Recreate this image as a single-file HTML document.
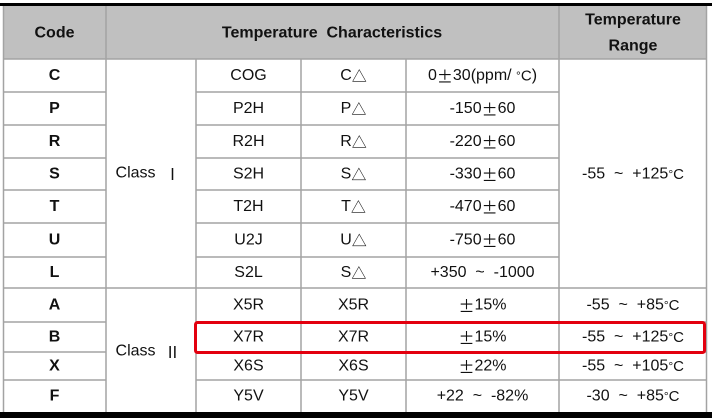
<!DOCTYPE html>
<html><head><meta charset="utf-8"><style>
html,body{margin:0;padding:0;background:#fff;}
svg{display:block;}
text{font-family:"Liberation Sans","Noto Sans CJK SC",sans-serif;font-size:16px;fill:#111;white-space:pre;}
.b{font-weight:bold;}
.c{font-family:"Noto Sans CJK SC","Liberation Sans",sans-serif;}
.d{font-size:12px;}
.dc{font-size:15px;}
</style></head><body>
<svg width="712" height="418" viewBox="0 0 712 418" xmlns="http://www.w3.org/2000/svg">
<rect x="0" y="0" width="712" height="418" fill="#fff"/>
<rect x="3" y="5" width="704" height="54" fill="#c0c0c0"/>
<g stroke="#a3a3a3" stroke-width="1.5" fill="none">
<line x1="3.5" y1="5" x2="3.5" y2="412"/>
<line x1="706.5" y1="5" x2="706.5" y2="412"/>
<line x1="106" y1="5" x2="106" y2="412"/>
<line x1="559" y1="5" x2="559" y2="412"/>
<line x1="196" y1="59" x2="196" y2="412"/>
<line x1="301" y1="59" x2="301" y2="412"/>
<line x1="406" y1="59" x2="406" y2="412"/>
<line x1="3" y1="59" x2="707" y2="59"/>
<line x1="3" y1="92" x2="106" y2="92"/>
<line x1="3" y1="125" x2="106" y2="125"/>
<line x1="3" y1="158" x2="106" y2="158"/>
<line x1="3" y1="190" x2="106" y2="190"/>
<line x1="3" y1="223" x2="106" y2="223"/>
<line x1="3" y1="257" x2="106" y2="257"/>
<line x1="3" y1="322" x2="106" y2="322"/>
<line x1="3" y1="352" x2="106" y2="352"/>
<line x1="3" y1="380" x2="106" y2="380"/>
<line x1="196" y1="92" x2="559" y2="92"/>
<line x1="196" y1="125" x2="559" y2="125"/>
<line x1="196" y1="158" x2="559" y2="158"/>
<line x1="196" y1="190" x2="559" y2="190"/>
<line x1="196" y1="223" x2="559" y2="223"/>
<line x1="196" y1="257" x2="559" y2="257"/>
<line x1="196" y1="322" x2="707" y2="322"/>
<line x1="196" y1="352" x2="707" y2="352"/>
<line x1="196" y1="380" x2="707" y2="380"/>
<line x1="3" y1="288" x2="707" y2="288"/>
</g>
<rect x="0" y="3" width="712" height="3" fill="#000"/>
<rect x="0" y="412" width="712" height="6" fill="#000"/>
<rect x="195.5" y="322.5" width="509" height="30" rx="2" fill="none" stroke="#e3000f" stroke-width="3"/>

<g dominant-baseline="central" text-anchor="middle">
<text class="b" x="54.5" y="33">Code</text>
<text class="b" x="332" y="33">Temperature  Characteristics</text>
<text class="b" x="633" y="20">Temperature</text>
<text class="b" x="633" y="46">Range</text>
<text class="b" x="54.5" y="75.5">C</text>
<text class="b" x="54.5" y="108.5">P</text>
<text class="b" x="54.5" y="141.5">R</text>
<text class="b" x="54.5" y="174">S</text>
<text class="b" x="54.5" y="206.5">T</text>
<text class="b" x="54.5" y="240">U</text>
<text class="b" x="54.5" y="272.5">L</text>
<text class="b" x="54.5" y="305">A</text>
<text class="b" x="54.5" y="337">B</text>
<text class="b" x="54.5" y="366">X</text>
<text class="b" x="54.5" y="396">F</text>
<text x="148" y="173">Class  <tspan class="c" font-size="16">Ⅰ</tspan></text>
<text x="148" y="351">Class  <tspan class="c" font-size="16">Ⅱ</tspan></text>
<text x="248.5" y="75.5">COG</text>
<text x="248.5" y="108.5">P2H</text>
<text x="248.5" y="141.5">R2H</text>
<text x="248.5" y="174">S2H</text>
<text x="248.5" y="206.5">T2H</text>
<text x="248.5" y="240">U2J</text>
<text x="248.5" y="272.5">S2L</text>
<text x="248.5" y="305">X5R</text>
<text x="248.5" y="337">X7R</text>
<text x="248.5" y="366">X6S</text>
<text x="248.5" y="396">Y5V</text>
<text x="353.5" y="75.5">C<tspan class="c" font-size="15">△</tspan></text>
<text x="353.5" y="108.5">P<tspan class="c" font-size="15">△</tspan></text>
<text x="353.5" y="141.5">R<tspan class="c" font-size="15">△</tspan></text>
<text x="353.5" y="174">S<tspan class="c" font-size="15">△</tspan></text>
<text x="353.5" y="206.5">T<tspan class="c" font-size="15">△</tspan></text>
<text x="353.5" y="240">U<tspan class="c" font-size="15">△</tspan></text>
<text x="353.5" y="272.5">S<tspan class="c" font-size="15">△</tspan></text>
<text x="353.5" y="305">X5R</text>
<text x="353.5" y="337">X7R</text>
<text x="353.5" y="366">X6S</text>
<text x="353.5" y="396">Y5V</text>
<text x="482.5" y="75.5">0<tspan class="c">±</tspan>30(ppm/ <tspan class="d">°</tspan><tspan class="dc">C</tspan>)</text>
<text x="482.5" y="108.5">-150<tspan class="c">±</tspan>60</text>
<text x="482.5" y="141.5">-220<tspan class="c">±</tspan>60</text>
<text x="482.5" y="174">-330<tspan class="c">±</tspan>60</text>
<text x="482.5" y="206.5">-470<tspan class="c">±</tspan>60</text>
<text x="482.5" y="240">-750<tspan class="c">±</tspan>60</text>
<text x="482.5" y="272.5">+350  ~  -1000</text>
<text x="482.5" y="305"><tspan class="c">±</tspan>15%</text>
<text x="482.5" y="337"><tspan class="c">±</tspan>15%</text>
<text x="482.5" y="366"><tspan class="c">±</tspan>22%</text>
<text x="482.5" y="396">+22  ~  -82%</text>
<text x="633" y="174">-55  ~  +125<tspan class="d">°</tspan><tspan class="dc">C</tspan></text>
<text x="633" y="305">-55  ~  +85<tspan class="d">°</tspan><tspan class="dc">C</tspan></text>
<text x="633" y="337">-55  ~  +125<tspan class="d">°</tspan><tspan class="dc">C</tspan></text>
<text x="633" y="366">-55  ~  +105<tspan class="d">°</tspan><tspan class="dc">C</tspan></text>
<text x="633" y="396">-30  ~  +85<tspan class="d">°</tspan><tspan class="dc">C</tspan></text>
</g>
</svg>
</body></html>
